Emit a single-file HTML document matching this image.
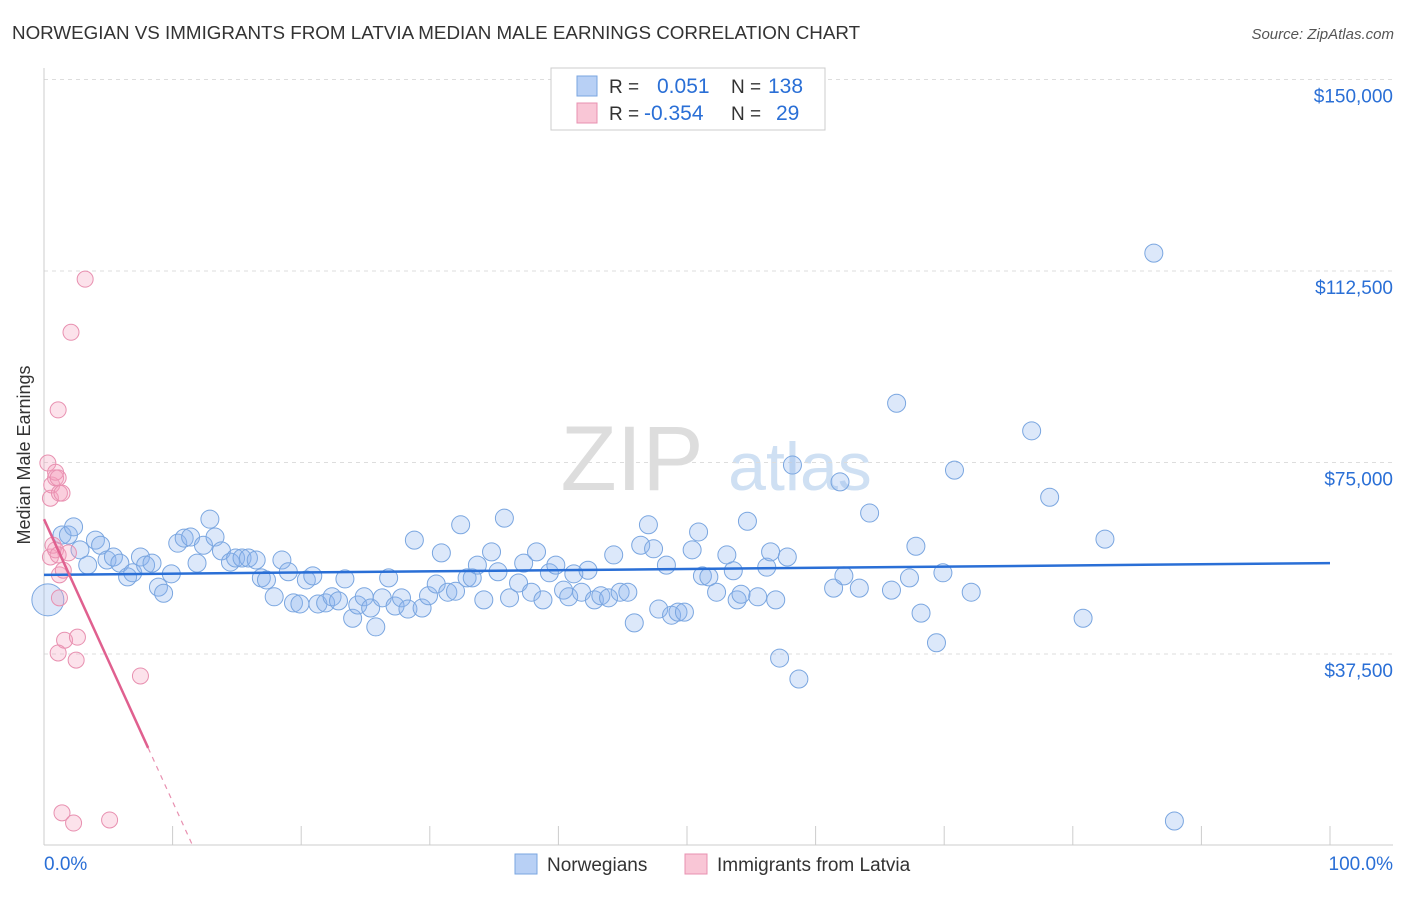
<!DOCTYPE html>
<html><head><meta charset="utf-8"><style>
body{margin:0;background:#fff;font-family:"Liberation Sans",sans-serif;}
svg text{font-family:"Liberation Sans",sans-serif;}
</style></head><body>
<svg id="chart" width="1406" height="892">
<text x="12" y="39" font-size="18.8" fill="#333">NORWEGIAN VS IMMIGRANTS FROM LATVIA MEDIAN MALE EARNINGS CORRELATION CHART</text>
<text x="1394" y="39" font-size="15" fill="#555" text-anchor="end" font-style="italic">Source: ZipAtlas.com</text>
<text x="30" y="455" font-size="18" fill="#333" text-anchor="middle" transform="rotate(-90 30 455)">Median Male Earnings</text>
<g><text x="632" y="490" font-size="92" fill="#ddd" text-anchor="middle" font-family="Liberation Serif">ZIP</text><text x="800" y="490" font-size="68" fill="#cfe0f3" text-anchor="middle">atlas</text></g>
<g id="grid"></g><g id="marks"></g>
<g>
<rect x="551" y="68" width="274" height="62" fill="#fff" stroke="#ccc"/>
<rect x="577" y="76" width="20" height="20" fill="#b8d0f5" stroke="#7aa6e0"/>
<rect x="577" y="103" width="20" height="20" fill="#f9c6d6" stroke="#e890b0"/>
<text x="609" y="93" font-size="19" fill="#333">R =</text><text x="657" y="93" font-size="21" fill="#2a6fd6">0.051</text>
<text x="731" y="93" font-size="19" fill="#333">N =</text><text x="768" y="93" font-size="21" fill="#2a6fd6">138</text>
<text x="609" y="120" font-size="19" fill="#333">R =</text><text x="644" y="120" font-size="21" fill="#2a6fd6">-0.354</text>
<text x="731" y="120" font-size="19" fill="#333">N =</text><text x="776" y="120" font-size="21" fill="#2a6fd6">29</text>
</g>
<g>
<rect x="515" y="854" width="22" height="20" fill="#b8d0f5" stroke="#7aa6e0"/><text x="547" y="871" font-size="19" fill="#333">Norwegians</text>
<rect x="685" y="854" width="22" height="20" fill="#f9c6d6" stroke="#e890b0"/><text x="717" y="871" font-size="19" fill="#333">Immigrants from Latvia</text>
</g>
</svg>
<script>
const yTicks=[37500,75000,112500,150000];
const yTickLabels=["$37,500","$75,000","$112,500","$150,000"];
const xTickLabels=["0.0%","100.0%"];
const blueX=[0.3,1.4,1.9,2.3,2.8,3.4,4.0,4.4,4.9,5.4,5.9,6.5,6.9,7.5,7.9,8.4,8.9,9.3,9.9,10.4,10.9,11.4,11.9,12.4,12.9,13.3,13.8,14.5,14.9,15.4,15.9,16.5,16.9,17.3,17.9,18.5,19.0,19.4,19.9,20.4,20.9,21.3,21.9,22.4,22.9,23.4,24.0,24.4,24.9,25.4,25.8,26.3,26.8,27.3,27.8,28.3,28.8,29.4,29.9,30.5,30.9,31.4,32.0,32.4,32.9,33.3,33.7,34.2,34.8,35.3,35.8,36.2,36.9,37.3,37.9,38.3,38.8,39.3,39.8,40.4,40.8,41.2,41.8,42.3,42.8,43.3,43.9,44.3,44.8,45.4,45.9,46.4,47.0,47.4,47.8,48.4,48.8,49.3,49.8,50.4,50.9,51.2,51.7,52.3,53.1,53.6,53.9,54.2,54.7,55.5,56.2,56.5,56.9,57.8,57.2,58.2,58.7,61.4,61.9,62.2,63.4,64.2,65.9,66.3,67.3,67.8,68.2,69.4,69.9,70.8,72.1,76.8,78.2,80.8,82.5,86.3,87.9];
const blueY=[48.1,60.8,60.8,62.4,57.9,54.9,59.8,58.8,55.9,56.5,55.3,52.6,53.4,56.5,54.9,55.3,50.6,49.4,53.2,59.2,60.2,60.4,55.3,58.8,63.9,60.4,57.7,55.5,56.3,56.3,56.3,55.9,52.4,52.0,48.7,55.9,53.6,47.5,47.3,52.0,52.8,47.3,47.5,48.7,47.9,52.2,44.5,47.1,48.7,46.5,42.8,48.5,52.4,46.9,48.5,46.3,59.8,46.5,48.9,51.2,57.3,49.6,49.8,62.8,52.4,52.4,54.9,48.1,57.5,53.6,64.1,48.5,51.4,55.3,49.6,57.5,48.1,53.4,54.9,50.0,48.7,53.2,49.6,53.9,48.1,48.9,48.5,56.9,49.6,49.6,43.6,58.8,62.8,58.1,46.3,54.9,45.1,45.7,45.7,57.9,61.4,52.8,52.6,49.6,56.9,53.8,48.1,49.2,63.5,48.7,54.5,57.5,48.1,56.5,36.7,74.5,32.6,50.4,71.2,52.8,50.4,65.1,50.0,86.6,52.4,58.6,45.5,39.7,53.4,73.5,49.6,81.2,68.2,44.5,60.0,116.0,4.8];
const pinkX=[0.3,0.5,0.6,0.9,0.9,1.1,1.2,1.4,0.5,0.7,0.9,1.1,1.2,1.2,1.5,1.9,1.6,1.1,2.5,2.6,3.2,2.1,1.1,7.5,1.4,2.3,5.1];
const pinkY=[74.9,68.0,70.6,72.0,73.1,72.0,69.0,69.0,56.5,58.8,57.9,56.9,53.0,48.5,53.9,57.3,40.2,37.7,36.3,40.8,110.9,100.5,85.3,33.2,6.4,4.4,5.0];
const blueLine=[53.0,55.3];
const pinkIntercept=63.9, pinkSlope=-5.53, pinkSolidEnd=8.1;
const X=p=>44+p*12.86, Y=k=>845.5-k*1000/37500*191.5;
const NS="http://www.w3.org/2000/svg";
function mk(t,a,parent){const e=document.createElementNS(NS,t);for(const k in a)e.setAttribute(k,a[k]);parent.appendChild(e);return e;}
const grid=document.getElementById('grid'),marks=document.getElementById('marks');
yTicks.forEach((v,i)=>{
 const l=mk('line',{x1:44,x2:1393,y1:Y(v/1000),y2:Y(v/1000),stroke:'#ddd','stroke-dasharray':'4 4'},grid);
 
 
 const t=mk('text',{x:1393,y:Y(v/1000)+23,'font-size':19,fill:'#2a6fd6','text-anchor':'end'},grid);t.textContent=yTickLabels[i];
 
 
});
mk('line',{x1:44,x2:44,y1:68,y2:845,stroke:'#ccc'},grid);
mk('line',{x1:44,x2:1393,y1:845,y2:845,stroke:'#ccc'},grid);
for(let i=1;i<=10;i++){mk('line',{x1:X(i*10),x2:X(i*10),y1:826,y2:845,stroke:'#ccc'},grid);}
xTickLabels.forEach((s,i)=>{const t=mk('text',{x:i?1393:44,y:870,'font-size':19,fill:'#2a6fd6','text-anchor':i?'end':'start'},grid);t.textContent=s;
 
 });
blueX.forEach((x,i)=>{const c=mk('circle',{cx:X(x),cy:Y(blueY[i]),r:i===0?16:9,fill:'rgba(140,180,240,0.3)',stroke:'#7aa6e0','stroke-width':1},marks);
 
 });
pinkX.forEach((x,i)=>{const c=mk('circle',{cx:X(x),cy:Y(pinkY[i]),r:8,fill:'rgba(245,160,190,0.3)',stroke:'#e890b0','stroke-width':1},marks);
 
 });
const bl=mk('line',{x1:X(0),x2:X(100),y1:Y(blueLine[0]),y2:Y(blueLine[1]),stroke:'#2a6fd6','stroke-width':2.5},marks);


const zeroX=-pinkIntercept/pinkSlope;
const pl=mk('line',{x1:X(0),x2:X(pinkSolidEnd),y1:Y(pinkIntercept),y2:Y(pinkIntercept+pinkSlope*pinkSolidEnd),stroke:'#e0608f','stroke-width':2.5},marks);


const pd=mk('line',{x1:X(pinkSolidEnd),x2:X(zeroX),y1:Y(pinkIntercept+pinkSlope*pinkSolidEnd),y2:Y(0),stroke:'#e890b0','stroke-width':1.2,'stroke-dasharray':'5 5'},marks);


</script>
</body></html>
